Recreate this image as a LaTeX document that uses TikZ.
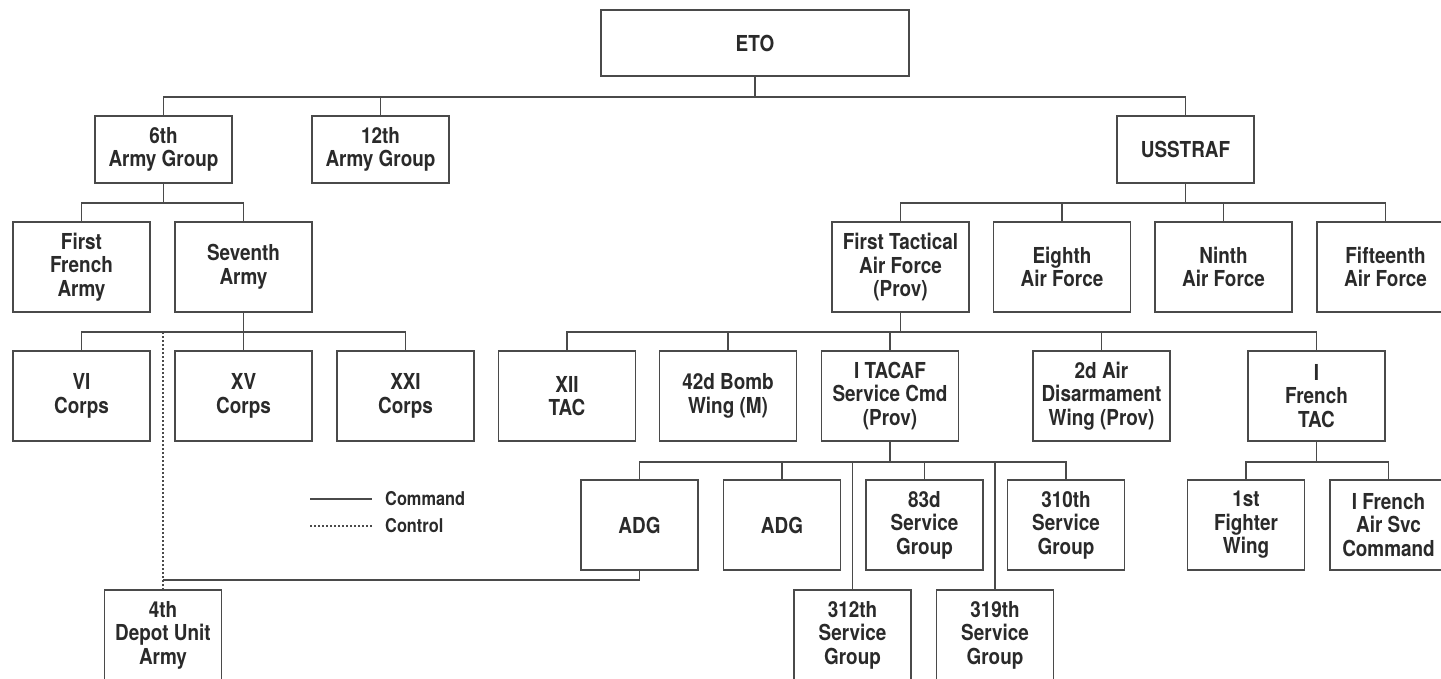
\documentclass[tikz,border=0pt]{standalone}
\usepackage{fontspec}
\newfontfamily\labfont{TeX Gyre Heros}[FakeStretch=0.86]
\definecolor{linegray}{HTML}{4A4A4A}
\definecolor{textgray}{HTML}{2A2A2A}
\begin{document}
\begin{tikzpicture}[x=1pt,y=-1pt,
  box/.style={draw=linegray, fill=white, line width=1.3pt, inner sep=0pt, outer sep=0pt,
    align=center, text=textgray, font=\labfont\bfseries\fontsize{22}{23.5}\selectfont,
    minimum height=90pt, minimum width=137pt},
  sbox/.style={box, minimum width=117pt},
  conn/.style={draw=linegray, line width=1.3pt},
  ctrl/.style={draw=linegray, line width=1.3pt, dash pattern=on 2pt off 2pt},
  legtext/.style={anchor=west, inner sep=0pt, text=textgray, font=\labfont\bfseries\fontsize{19}{20}\selectfont}]
\useasboundingbox (0,0) rectangle (1441,678);
\fill[white] (0,0) rectangle (1441,678);
\clip (0,0) rectangle (1441,678);

% level 0
\node[box, minimum width=308pt, minimum height=66pt] (eto) at (755,43) {ETO};
% level 1
\node[box, minimum height=67pt] (ag6) at (163.5,149.5) {6th\\Army Group};
\node[box, minimum height=67pt] (ag12) at (380.5,149.5) {12th\\Army Group};
\node[box, minimum height=67pt] (usstraf) at (1185.5,149.5) {USSTRAF};
% level 2
\node[box] (ffa) at (81.5,267) {First\\French\\Army};
\node[box] (seventh) at (243.5,267) {Seventh\\Army};
\node[box] (ftaf) at (900.5,267) {First Tactical\\Air Force\\(Prov)};
\node[box] (eighth) at (1062,267) {Eighth\\Air Force};
\node[box] (ninth) at (1223.5,267) {Ninth\\Air Force};
\node[box] (fifteenth) at (1385.5,267) {Fifteenth\\Air Force};
% level 3
\node[box] (vi) at (81.5,396) {VI\\Corps};
\node[box] (xv) at (243.5,396) {XV\\Corps};
\node[box] (xxi) at (405.5,396) {XXI\\Corps};
\node[box] (xii) at (567,396) {XII\\TAC};
\node[box] (bomb) at (728,396) {42d Bomb\\Wing (M)};
\node[box] (itacaf) at (890,396) {I TACAF\\Service Cmd\\(Prov)};
\node[box] (adw) at (1101.5,396) {2d Air\\Disarmament\\Wing (Prov)};
\node[box] (ftac) at (1316.5,396) {I\\French\\TAC};
% level 4
\node[sbox] (adg1) at (639.5,525) {ADG};
\node[sbox] (adg2) at (782,525) {ADG};
\node[sbox] (sg83) at (924.5,525) {83d\\Service\\Group};
\node[sbox] (sg310) at (1066,525) {310th\\Service\\Group};
\node[sbox] (fw1) at (1246,525) {1st\\Fighter\\Wing};
\node[sbox] (fasc) at (1388.5,525) {I French\\Air Svc\\Command};
% level 5
\node[sbox] (depot) at (163,635) {4th\\Depot Unit\\Army};
\node[sbox] (sg312) at (852.5,635) {312th\\Service\\Group};
\node[sbox] (sg319) at (995,635) {319th\\Service\\Group};

% bar coordinates
\coordinate (b0) at (755,97);
\coordinate (b1) at (163.5,203);
\coordinate (b2) at (1185.5,203);
\coordinate (b3) at (243.5,332);
\coordinate (b4) at (900.5,332);
\coordinate (b5) at (890,462);
\coordinate (b6) at (1316.5,462);
\coordinate (j) at (163,580);

% ETO
\draw[conn] (eto.south) -- (b0);
\draw[conn] (ag6.north) |- (b0) -| (usstraf.north);
\draw[conn] (ag12.north) -- (ag12.north |- b0);
% 6th Army Group
\draw[conn] (ag6.south) -- (b1);
\draw[conn] (ffa.north) |- (b1) -| (seventh.north);
% USSTRAF
\draw[conn] (usstraf.south) -- (b2);
\draw[conn] (ftaf.north) |- (b2) -| (fifteenth.north);
\draw[conn] (eighth.north) -- (eighth.north |- b2);
\draw[conn] (ninth.north) -- (ninth.north |- b2);
% Seventh Army
\draw[conn] (seventh.south) -- (b3);
\draw[conn] (vi.north) |- (b3) -| (xxi.north);
\draw[conn] (xv.north) -- (xv.north |- b3);
% First Tactical Air Force
\draw[conn] (ftaf.south) -- (b4);
\draw[conn] (xii.north) |- (b4) -| (ftac.north);
\draw[conn] (bomb.north) -- (bomb.north |- b4);
\draw[conn] (itacaf.north) -- (itacaf.north |- b4);
\draw[conn] (adw.north) -- (adw.north |- b4);
% I TACAF Service Cmd
\draw[conn] (itacaf.south) -- (b5);
\draw[conn] (adg1.north) |- (b5) -| (sg310.north);
\draw[conn] (adg2.north) -- (adg2.north |- b5);
\draw[conn] (sg83.north) -- (sg83.north |- b5);
\draw[conn] (sg312.north) -- (sg312.north |- b5);
\draw[conn] (sg319.north) -- (sg319.north |- b5);
% I French TAC
\draw[conn] (ftac.south) -- (b6);
\draw[conn] (fw1.north) |- (b6) -| (fasc.north);
% control link to 4th Depot Unit
\draw[ctrl] (depot.north) -- (depot.north |- b3);
\draw[conn] (adg1.south) |- (j);

% legend
\coordinate (l1a) at (310,499);
\coordinate (l1b) at (372,499);
\coordinate (l2a) at (310,526);
\coordinate (l2b) at (372,526);
\draw[conn, line width=1.1pt] (l1a) -- (l1b);
\draw[ctrl, line width=1.1pt] (l2a) -- (l2b);
\node[legtext] (lcmd) at (385,499) {Command};
\node[legtext] (lctl) at (385,526) {Control};
\end{tikzpicture}
\end{document}
